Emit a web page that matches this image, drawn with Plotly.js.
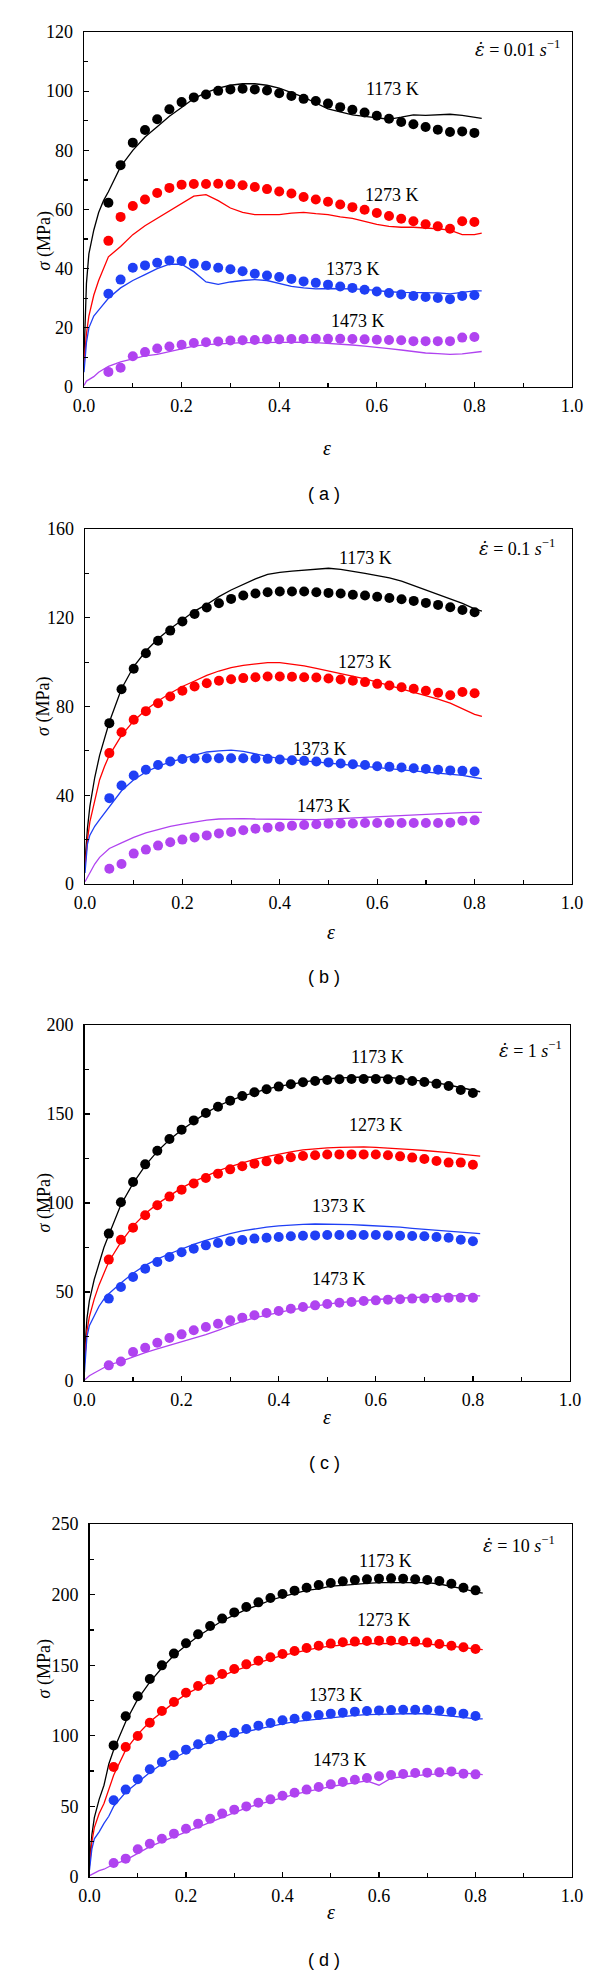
<!DOCTYPE html>
<html>
<head>
<meta charset="utf-8">
<script src="https://cdn.plot.ly/plotly-3.0.1.min.js"></script>
<style>html,body{margin:0;padding:0;background:#fff;}#chart{width:600px;height:1987px;}</style>
</head>
<body>
<div id="chart"></div>
<script>
// ---------- shared strain grids ----------
const strainLine = [0,0.005,0.01,0.02,0.03,0.04,0.05,0.075,0.1,0.125,0.15,0.175,0.2,0.225,0.25,0.275,0.3,0.325,0.35,0.375,0.4,0.425,0.45,0.475,0.5,0.525,0.55,0.575,0.6,0.625,0.65,0.675,0.7,0.725,0.75,0.775,0.8,0.815];
const strainPts = [0.05,0.075,0.1,0.125,0.15,0.175,0.2,0.225,0.25,0.275,0.3,0.325,0.35,0.375,0.4,0.425,0.45,0.475,0.5,0.525,0.55,0.575,0.6,0.625,0.65,0.675,0.7,0.725,0.75,0.775,0.8];
const temps = ["1173 K","1273 K","1373 K","1473 K"];
const colors = ["#000000","#ff0000","#1f3ff5","#b043f0"];
const rates = ["0.01","0.1","1","10"];
const panelLetters = ["a","b","c","d"];
const yMax = [120,160,200,250];
const yDtick = [20,40,50,50];

// ---------- panel (a) 0.01 s^-1 ----------
const a1173Line = [10,35,45,53,59,63,66,74.5,80,84.5,88,91.5,94.5,97.5,99.5,101,102,102.5,102.5,102,101,99.5,98,96,94,93,92,91.5,91,90.5,91.2,92,91.8,92,92.2,91.8,91.3,90.8];
const a1273Line = [8,18,24,31,36,40,44,47.5,51.5,54.5,57,59.5,62,64.5,65,63,60.5,59,58.3,58.2,58.3,58.8,59,58.6,58.3,57.5,57,56,55,54.3,54,54,53.8,53.5,53,51.5,51.5,52];
const a1373Line = [5,15,20,24,26,28,30,33.5,36,38,40,41.5,41.5,39,35.5,34.7,35.5,36,36.3,36,35,34,33.5,33.2,33.3,33.3,33.2,33,32.5,32.2,32,32,32,31.8,31.5,32,32.5,32.5];
const a1473Line = [0.5,2,2.5,3.5,5,6,7,8.5,9.5,10.5,11,12,13,13.8,14.3,14.6,14.8,15,15,15.1,15.2,15.2,15.2,15,14.8,14.5,14.2,13.8,13.5,13,12.5,12,11.5,11.3,11,11.2,11.8,12];
const a1173Pts = [62.3,75.0,82.6,86.9,90.5,93.9,96.3,97.9,98.9,100.1,100.6,100.8,100.6,100.2,99.3,98.4,97.4,96.7,95.8,94.6,93.7,92.8,91.7,90.7,89.6,88.8,87.9,87.0,86.2,86.4,85.9];
const a1273Pts = [49.4,57.5,61.2,63.4,65.6,67.3,68.4,68.6,68.6,68.7,68.5,68.2,67.6,66.9,66.1,65.4,64.2,63.4,62.6,61.7,60.8,59.9,58.8,57.8,56.9,56.0,55.0,54.3,53.5,56.0,55.8];
const a1373Pts = [31.5,36.3,40.3,41.1,42.0,42.8,42.6,41.7,41.0,40.3,39.8,39.1,38.3,37.7,37.2,36.5,35.7,35.2,34.6,34.0,33.5,32.9,32.3,31.8,31.3,30.8,30.4,30.1,29.7,30.8,31.0];
const a1473Pts = [5.1,6.5,10.4,11.8,13.0,13.7,14.3,14.9,15.1,15.4,15.7,15.8,15.9,16.1,16.1,16.2,16.2,16.3,16.3,16.3,16.2,16.1,16.0,15.9,15.8,15.5,15.5,15.5,15.5,16.7,16.9];

// ---------- panel (b) 0.1 s^-1 ----------
const b1173Line = [10,25,35,48,58,66,73,88,98,105,110.5,115,119,123,126,129.5,132.5,135,137.5,139.5,140.5,141,141.5,142,142.3,141.8,141,140,139,138,136.5,134.5,132.5,130.5,128.5,126.5,124,123];
const b1273Line = [8,20,28,38,47,53,58,67,73.5,78.5,82.5,86,89,91.5,94,96,97.5,98.5,99.3,99.8,99.8,99.2,98.3,97.2,96,95,93.8,92.5,91,89.5,88,86.5,85,83.3,81.5,79,76.5,75.5];
const b1373Line = [5,18,22,26,29,32,35,42,47,50.5,53,55,56.5,58,59.5,60,60.3,59.8,58.5,57.5,56.5,56,55.5,55,54.5,54,53.5,53,52.5,52,51.5,51,50.5,50,49.5,49,48,47.5];
const b1473Line = [1,3,5,9,12,14,16,18.5,21,23,24.5,26,27,28,28.8,29.3,29.5,29.5,29.3,29.2,29,29,29,29,29.2,29.5,29.8,30,30.3,30.6,31,31.3,31.6,31.8,32,32.2,32.3,32.3];
const b1173Pts = [72.5,87.8,97.0,104.0,109.6,114.2,118.3,121.7,124.6,126.5,128.5,130.0,130.9,131.5,131.8,131.8,131.8,131.5,131.2,130.9,130.4,130.0,129.5,128.9,128.3,127.6,126.7,125.8,124.7,123.5,122.5];
const b1273Pts = [59.0,68.4,74.0,77.9,81.5,84.5,87.1,89.0,90.5,91.6,92.3,92.8,93.2,93.5,93.5,93.4,93.2,93.1,92.6,92.2,91.6,91.0,90.2,89.5,88.7,88.0,87.1,86.2,85.1,86.5,86.0];
const b1373Pts = [38.7,44.4,48.9,51.5,53.6,55.2,56.3,56.6,56.7,56.7,56.7,56.7,56.6,56.4,56.1,55.8,55.5,55.2,54.8,54.3,54.0,53.6,53.1,52.8,52.5,52.2,51.8,51.5,51.2,51.0,50.7];
const b1473Pts = [6.9,9.0,13.7,15.5,17.3,18.8,20.0,21.0,21.9,22.8,23.4,24.2,24.9,25.4,25.8,26.3,26.6,26.9,27.2,27.3,27.3,27.5,27.5,27.5,27.5,27.5,27.5,27.5,27.6,28.5,28.7];

// ---------- panel (c) 1 s^-1 ----------
const c1173Line = [15,35,45,57,66,75,82,99,111,121,129,135.5,141,146,150.5,154.5,157.5,160,162,164,165.5,166.8,168,169,169.8,170.3,170.6,170.8,170.8,170.5,170,169.3,168.5,167.5,166.3,165,163.5,162.5];
const c1273Line = [10,28,36,46,54,61,67,78,87,94,99.5,104,108.5,112,115,118,120.5,122.5,124.5,126,127.5,128.7,129.8,130.5,131,131.3,131.5,131.5,131.3,131,130.5,130,129.5,129,128.3,127.5,126.8,126.3];
const c1373Line = [5,25,31,37,42,46,49,55,60.5,65,68.5,71.5,74.3,76.8,79,81,82.8,84.3,85.5,86.5,87.2,87.7,88,88.2,88.2,88,87.8,87.5,87.2,86.8,86.4,85.8,85.2,84.6,84,83.5,83,82.8];
const c1473Line = [0.5,2,3,4.5,6,7.5,9,11,13.5,16,18,20,22,24,26,28.5,31,33.5,35.5,37,38.5,40,41,42.2,43.2,44,44.7,45.3,45.8,46.2,46.6,47,47.3,47.6,47.8,48,48,47.8];
const c1173Pts = [82.8,100.4,111.8,121.7,129.4,136.0,141.2,146.4,150.6,154.1,157.5,160.1,162.2,163.9,165.4,166.7,167.8,168.5,169.1,169.5,169.7,169.7,169.7,169.5,169.1,168.5,168.0,167.0,165.7,163.5,161.8];
const c1273Pts = [68.2,79.4,86.1,93.1,98.7,103.6,107.5,111.0,114.0,116.5,118.9,120.6,122.1,123.4,124.5,125.7,126.4,126.8,127.2,127.3,127.3,127.3,127.2,126.8,126.2,125.5,124.7,123.6,122.7,122.7,121.5];
const c1373Pts = [46.3,52.8,58.4,63.1,66.9,69.7,72.3,74.3,76.2,77.5,78.5,79.2,80.0,80.5,80.9,81.3,81.6,81.8,82.0,82.0,82.0,82.0,82.0,81.8,81.6,81.5,81.3,80.9,80.5,79.4,78.5];
const c1473Pts = [8.8,11.0,16.3,18.7,21.5,24.2,26.2,28.5,30.3,32.2,34.1,35.6,36.9,38.2,39.3,40.6,41.6,42.5,43.3,44.0,44.4,44.9,45.3,45.7,45.9,46.3,46.4,46.6,46.8,46.8,46.8];

// ---------- panel (d) 10 s^-1 ----------
const d1173Line = [10,30,42,55,65,80,90,110,126,138,148,157,164,170.5,176,181.5,185.5,189.5,192.5,196,198.5,201,203,204,206,206.5,207.5,208,208.5,208.5,209,208.5,208.5,207.5,206,204,202,201];
const d1273Line = [8,25,35,45,52,62,72,90,101,110,117,123.5,129.5,134,138.5,142.5,146,149,152,154.5,157,159,161,162.5,163.5,164.5,165,165.5,165.5,165.8,165.8,165.3,165,164.5,163.5,162.5,161.5,161];
const d1373Line = [5,20,27,32,38,43,50,60,67,74,80,84.5,88.5,92.5,95.5,98.5,101,103,105,107,108.5,110,111,112,113,114,114.5,115,115.3,115.5,115.5,115.8,115.5,115,114,113,112,112];
const d1473Line = [1,2,3,4.5,5.5,7,9,12,17,21.5,25,28.5,32,35.5,39,42.5,46,49,51.5,54,56.5,58.5,60.5,62.5,64,65.5,67,68,65,70,71,72,72.5,73,73.5,73.5,73,72.5];
const d1173Pts = [93.2,113.8,128.0,140.2,149.9,158.2,165.5,171.9,177.8,183.0,187.4,191.2,194.5,197.6,200.4,202.8,204.9,206.8,208.2,209.4,210.3,210.8,211.3,211.5,211.3,210.8,210.3,209.6,207.7,204.9,203.0];
const d1273Pts = [77.9,92.1,99.9,109.3,117.6,123.9,130.5,135.3,139.8,143.8,147.3,150.6,153.2,155.6,157.9,160.1,162.2,163.8,165.3,166.2,166.7,167.1,167.4,167.4,167.1,166.7,166.0,165.0,163.8,162.7,161.5];
const d1373Pts = [54.3,61.9,69.2,76.3,81.4,86.2,90.2,94.0,97.5,100.1,102.2,104.8,107.2,109.1,111.0,112.1,113.8,114.7,115.7,116.4,117.1,117.6,118.0,118.2,118.5,118.5,118.5,118.0,117.1,115.7,114.0];
const d1473Pts = [9.9,13.0,19.6,23.6,27.1,30.7,34.2,37.8,41.3,44.9,47.7,50.0,52.6,55.0,57.6,59.7,61.9,63.7,65.6,67.3,68.9,70.1,71.3,72.2,72.9,73.7,73.9,74.1,74.8,73.2,72.7];

// ---------- label positions (data coords) ----------
const labelX = [[0.632,0.632,0.552,0.561],[0.575,0.575,0.482,0.49],[0.603,0.6,0.524,0.524],[0.614,0.61,0.51,0.52]];
const labelY = [[100.8,65,40,22.3],[146.8,100,61,35.3],[182,143.6,98.3,57.5],[223.6,181.8,129,83]];
const rateX = [0.888,0.888,0.918,0.891];
const rateY = [114.4,151.7,186.3,235.6];

const lines = [[a1173Line,a1273Line,a1373Line,a1473Line],[b1173Line,b1273Line,b1373Line,b1473Line],[c1173Line,c1273Line,c1373Line,c1473Line],[d1173Line,d1273Line,d1373Line,d1473Line]];
const pts = [[a1173Pts,a1273Pts,a1373Pts,a1473Pts],[b1173Pts,b1273Pts,b1373Pts,b1473Pts],[c1173Pts,c1273Pts,c1373Pts,c1473Pts],[d1173Pts,d1273Pts,d1373Pts,d1473Pts]];

// ---------- layout geometry (pixels) ----------
const W = 600, H = 1987;
const boxes = [ // left, right, top, bottom
  [84,572,32,387],[85,572,529,884],[84.5,570,1025,1381],[89.5,572,1524,1877]
];
const yTitleX = 31;
const epsY = [435,932,1430,1925];
const epsX = [327,331,327,331];
const capY = [482,977,1475,1972];
const capX = [324,324,324,324];

const serif = "Liberation Serif, Times New Roman, serif";
const traces = [];
const layout = {
  width: W, height: H, margin: {l:0,r:0,t:0,b:0},
  paper_bgcolor: "#fff", plot_bgcolor: "#fff",
  showlegend: false, annotations: [],
  font: {family: serif, size: 18, color: "#000"}
};

for (let p = 0; p < 4; p++) {
  const sfx = p === 0 ? "" : String(p+1);
  const xa = "x"+sfx, ya = "y"+sfx;
  for (let k = 0; k < 4; k++) {
    traces.push({x: strainLine, y: lines[p][k], xaxis: xa, yaxis: ya, type: "scatter", mode: "lines",
      line: {color: colors[k], width: 1.3}, hoverinfo: "skip"});
    traces.push({x: strainPts, y: pts[p][k], xaxis: xa, yaxis: ya, type: "scatter", mode: "markers",
      marker: {color: colors[k], size: 10, line: {width: 0}}, hoverinfo: "skip"});
  }
  const b = boxes[p];
  const axCommon = {showline: true, mirror: true, linecolor: "#000", linewidth: 1.3, showgrid: false, zeroline: false,
    ticks: "inside", ticklen: 5, tickwidth: 1.2, tickcolor: "#000", fixedrange: true,
    tickfont: {family: serif, size: 18, color: "#000"}};
  layout["xaxis"+sfx] = Object.assign({}, axCommon, {
    domain: [b[0]/W, b[1]/W], anchor: ya, range: [0,1], dtick: 0.2, tick0: 0, tickformat: ".1f",
    minor: {dtick: 0.1, ticks: "inside", ticklen: 4, tickcolor: "#000", tickwidth: 1.2, showgrid: false},
    ticklabelstandoff: 2
  });
  layout["yaxis"+sfx] = Object.assign({}, axCommon, {
    domain: [1 - b[3]/H, 1 - b[2]/H], anchor: xa, range: [0, yMax[p]], dtick: yDtick[p], tick0: 0,
    minor: {dtick: yDtick[p]/2, ticks: "inside", ticklen: 4, tickcolor: "#000", tickwidth: 1.2, showgrid: false},
    ticklabelstandoff: 6
  });
  // curve labels
  for (let k = 0; k < 4; k++) {
    layout.annotations.push({xref: xa, yref: ya, x: labelX[p][k], y: labelY[p][k], text: temps[k],
      showarrow: false, font: {family: serif, size: 18, color: "#000"}});
  }
  layout.annotations.push({xref: xa, yref: ya, x: rateX[p], y: rateY[p],
    text: "<span style=\"font-family:'DejaVu Serif'\"><i>ε̇</i></span> = " + rates[p] + " <i>s</i><sup>−1</sup>", showarrow: false,
    font: {family: serif, size: 18, color: "#000"}});
  // axis titles
  layout.annotations.push({xref: "paper", yref: "paper", x: yTitleX/W, y: 1 - (b[2]+b[3])/2/H,
    text: "<i>σ</i> (MPa)", textangle: -90, showarrow: false, font: {family: serif, size: 18, color: "#000"}});
  layout.annotations.push({xref: "paper", yref: "paper", x: epsX[p]/W, y: 1 - epsY[p]/H,
    text: "<i>ε</i>", showarrow: false, font: {family: serif, size: 20, color: "#000"}});
  layout.annotations.push({xref: "paper", yref: "paper", x: capX[p]/W, y: 1 - capY[p]/H,
    text: "( " + panelLetters[p] + " )", showarrow: false, font: {family: "Liberation Sans, Arial, sans-serif", size: 18, color: "#000"}});
}

Plotly.newPlot("chart", traces, layout, {staticPlot: true, displayModeBar: false});
</script>
</body>
</html>
